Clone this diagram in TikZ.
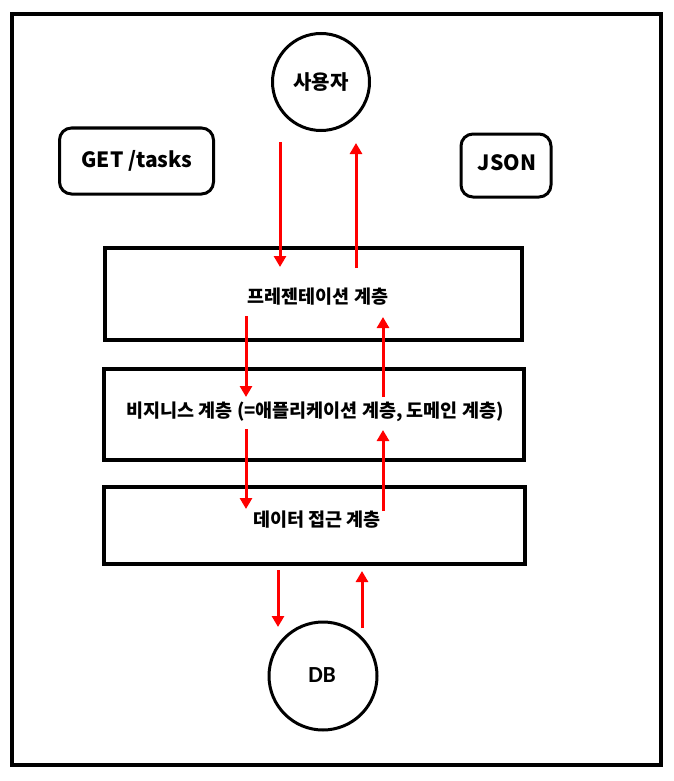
\documentclass[tikz,border=0pt]{standalone}
\usepackage{fontspec}
\newfontfamily\kr{Noto Sans CJK KR}
\newfontfamily\dbfont{Carlito}
\usetikzlibrary{arrows.meta}
\begin{document}
\begin{tikzpicture}[x=1pt,y=-1pt,
  layer/.style={draw, line width=4pt, inner sep=0pt},
  lbl/.style={inner sep=0pt, font=\kr\bfseries\fontsize{18.5}{18.5}\selectfont},
  tag/.style={draw, line width=3pt, rounded corners=12pt, inner sep=0pt},
  taglbl/.style={inner sep=0pt, font=\kr\bfseries\fontsize{21}{21}\selectfont},
  actor/.style={draw, circle, line width=3pt, inner sep=0pt},
  flow/.style={draw=red, line width=3pt, -{Triangle[width=12pt,length=11pt]}}]
\useasboundingbox (0,0) rectangle (673,781);
\draw[line width=4pt] (12,14) rectangle (661,765);
% actors
\node[actor, minimum size=97pt, font=\kr\bfseries\fontsize{20}{20}\selectfont] (user) at (321,82) {사용자};
\node[actor, minimum size=108pt] (db) at (323,676) {};
\node[inner sep=0pt, font=\dbfont\bfseries\fontsize{23}{23}\selectfont] (dbT) at (322,675) {DB};
% tags
\node[tag, minimum width=154pt, minimum height=66pt] (get) at (136.5,161) {};
\node[taglbl] (getT) at (137,161) {GET /tasks};
\node[tag, minimum width=90pt, minimum height=63pt] (json) at (506,165.5) {};
\node[taglbl] (jsonT) at (507,163) {JSON};
% layers
\node[layer, minimum width=417pt, minimum height=92pt] (pres) at (313,294) {};
\node[lbl] (presT) at (318,297) {프레젠테이션 계층};
\node[layer, minimum width=420pt, minimum height=91pt] (biz) at (314,414.5) {};
\node[lbl] (bizT) at (315,412) {비지니스 계층 (=애플리케이션 계층, 도메인 계층)};
\node[layer, minimum width=421pt, minimum height=77pt] (data) at (314.5,525.5) {};
\node[lbl] (dataT) at (317,520) {데이터 접근 계층};
% arrow end points
\coordinate (d1s) at (280,142); \coordinate (d1e) at (280,267);
\coordinate (u1s) at (356,268); \coordinate (u1e) at (356,143);
\coordinate (d2s) at (246,316); \coordinate (d2e) at (246,397);
\coordinate (u2s) at (383,397); \coordinate (u2e) at (383,317);
\coordinate (d3s) at (246,429); \coordinate (d3e) at (246,509);
\coordinate (u3s) at (383,511); \coordinate (u3e) at (383,430);
\coordinate (d4s) at (278,570); \coordinate (d4e) at (278,627);
\coordinate (u4s) at (362,628); \coordinate (u4e) at (362,571);
\draw[flow] (d1s) -- (d1e);
\draw[flow] (u1s) -- (u1e);
\draw[flow] (d2s) -- (d2e);
\draw[flow] (u2s) -- (u2e);
\draw[flow] (d3s) -- (d3e);
\draw[flow] (u3s) -- (u3e);
\draw[flow] (d4s) -- (d4e);
\draw[flow] (u4s) -- (u4e);
\end{tikzpicture}
\end{document}
